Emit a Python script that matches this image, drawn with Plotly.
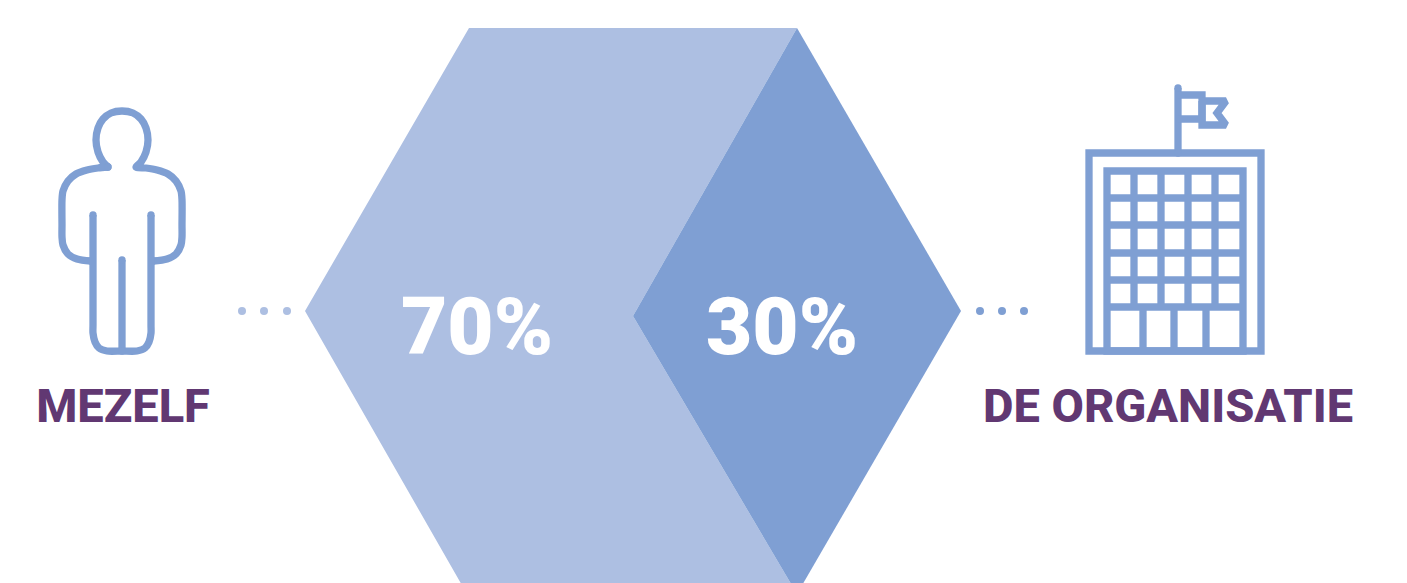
import plotly.graph_objects as go

LIGHT = "#ADBFE2"
DARK = "#7F9FD3"
PURPLE = "#613872"
FONT = "Roboto"

# hexagon parts
hex_70_x = [305, 469, 797, 633, 797, 467, 305]
hex_70_y = [311, 28, 28, 316, 594, 594, 311]
hex_30_x = [797, 961, 797, 633, 797]
hex_30_y = [28, 311, 594, 316, 28]

# text
pct_labels = ["70%", "30%"]
pct_x = [477, 782]
pct_y = [334, 334]
name_labels = ["MEZELF", "DE ORGANISATIE"]
name_x = [123, 1168]
name_y = [410, 410]

# dots
dots_left_x = [242, 264, 287]
dots_right_x = [980, 1002, 1024]
dots_y = 311

# person icon
body_x = [108, 103, 98, 96, 98, 103, 111, 122, 133, 141, 146, 148, 146, 141, 136,
          146, 157, 168, 176, 181, 182, 182, 182, 181, 176, 167, 153]
body_y = [167, 162, 152, 140, 128, 119, 113, 111, 113, 119, 128, 140, 152, 162, 167,
          168, 170, 174, 181, 191, 200, 225, 237, 245, 254, 259, 261]
body2_x = [108, 98, 87, 76, 68, 63, 62, 62, 62, 63, 68, 77, 91]
body2_y = [167, 168, 170, 174, 181, 191, 200, 225, 237, 245, 254, 259, 261]
legs_x = [93, 93, 93, 93, 95, 99, 107, 122, 137, 145, 149, 151, 151, 151, 151]
legs_y = [215, 270, 325, 333, 342, 348, 351, 351, 351, 348, 342, 333, 325, 270, 215]
mid_x = [122, 122]
mid_y = [260, 351]

# building icon
outer_x = [1178, 1089, 1089, 1261, 1261, 1178]
outer_y = [153, 153, 351, 351, 153, 153]
grid_v = [1107, 1134, 1161, 1188, 1215, 1243]
grid_h = [171, 198, 225, 253, 280, 307]
door_v = [1143, 1174, 1206]
pole_x = [1178, 1178]
pole_y = [88, 153]
flag1_x = [1178, 1202, 1202, 1178]
flag1_y = [95, 95, 119, 119]
flag2_x = [1202, 1226, 1217, 1226, 1202, 1202]
flag2_y = [101, 101, 113, 125, 125, 101]

fig = go.Figure()

def poly(x, y, c):
    fig.add_trace(go.Scatter(x=x, y=y, mode="lines", fill="toself", fillcolor=c,
                             line=dict(color=c, width=0), hoverinfo="skip"))

def stroke(x, y, shape="linear", caps=False):
    line = dict(color=DARK, width=7.3, shape=shape)
    if shape == "spline":
        line["smoothing"] = 0.8
    fig.add_trace(go.Scatter(x=x, y=y, mode="lines", line=line, hoverinfo="skip"))
    if caps:
        fig.add_trace(go.Scatter(x=[x[0], x[-1]], y=[y[0], y[-1]], mode="markers",
                                 marker=dict(color=DARK, size=7.3), hoverinfo="skip"))

poly(hex_70_x, hex_70_y, LIGHT)
poly(hex_30_x, hex_30_y, DARK)

fig.add_trace(go.Scatter(x=dots_left_x, y=[dots_y] * 3, mode="markers",
                         marker=dict(color=LIGHT, size=8), hoverinfo="skip"))
fig.add_trace(go.Scatter(x=dots_right_x, y=[dots_y] * 3, mode="markers",
                         marker=dict(color=DARK, size=8), hoverinfo="skip"))

stroke(body_x, body_y, "spline", True)
stroke(body2_x, body2_y, "spline", True)
stroke(legs_x, legs_y, "spline", True)
stroke(mid_x, mid_y, caps=True)

stroke(outer_x, outer_y)
stroke([grid_v[2], grid_v[0], grid_v[0], grid_v[-1], grid_v[-1], grid_v[2]],
       [grid_h[0], grid_h[0], 351, 351, grid_h[0], grid_h[0]])
for v in grid_v[1:-1]:
    stroke([v, v], [grid_h[0], grid_h[-1]])
for h in grid_h[1:]:
    stroke([grid_v[0], grid_v[-1]], [h, h])
for v in door_v:
    stroke([v, v], [grid_h[-1], 351])
stroke(pole_x, pole_y, caps=True)
stroke(flag1_x, flag1_y)
stroke(flag2_x, flag2_y)

fig.add_trace(go.Scatter(x=pct_x, y=pct_y, mode="text", text=pct_labels, textposition="middle center",
                         textfont=dict(family=FONT, size=80, color="white", weight=900), hoverinfo="skip"))
fig.add_trace(go.Scatter(x=name_x, y=name_y, mode="text", text=name_labels, textposition="middle center",
                         textfont=dict(family=FONT, size=47, color=PURPLE, weight=800), hoverinfo="skip"))

fig.update_layout(
    showlegend=False, margin=dict(l=0, r=0, t=0, b=0),
    paper_bgcolor="white", plot_bgcolor="white",
    xaxis=dict(range=[0, 1407], visible=False, fixedrange=True),
    yaxis=dict(range=[583, 0], visible=False, fixedrange=True),
)
fig.write_html("out.html", config=dict(displayModeBar=False),
               post_script="document.body.style.margin='0';document.body.style.overflow='hidden';window.dispatchEvent(new Event('resize'));")
